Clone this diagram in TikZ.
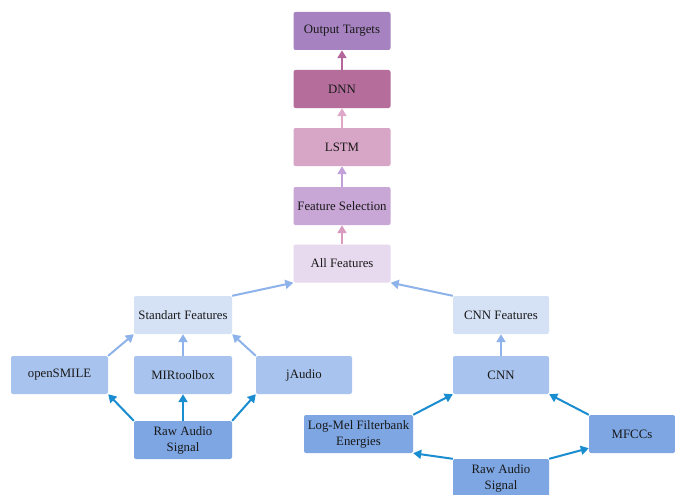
\documentclass[tikz,border=0pt]{standalone}
\usepackage{fontspec}
\setmainfont{Liberation Serif}
\usetikzlibrary{arrows.meta}
\definecolor{cOut}{HTML}{A683C0}
\definecolor{cDnn}{HTML}{B56E9C}
\definecolor{cLstm}{HTML}{D7A5C5}
\definecolor{cSel}{HTML}{C8A6D6}
\definecolor{cAll}{HTML}{E8DAEE}
\definecolor{cFeat}{HTML}{D5E2F6}
\definecolor{cTool}{HTML}{A8C4EE}
\definecolor{cRaw}{HTML}{7DA6E3}
\definecolor{aOut}{HTML}{B4679A}
\definecolor{aDnn}{HTML}{E0A8C8}
\definecolor{aLstm}{HTML}{C4A0D8}
\definecolor{aSel}{HTML}{D99AC0}
\definecolor{aFeat}{HTML}{8EB2EA}
\definecolor{aRaw}{HTML}{1A8CD0}
\tikzset{
  box/.style={rounded corners=2pt, minimum width=97pt, minimum height=38pt,
    inner sep=2pt, align=center, text=black!90,
    font=\fontsize{12.8}{16}\selectfont},
  conn/.style={line width=2pt, -{Triangle[length=8pt,width=9pt]}},
}
\begin{document}
\begin{tikzpicture}[x=1pt,y=-1pt]
\useasboundingbox[fill=white] (0,0) rectangle (675,495);
% central stack
\node[box, fill=cOut] (out) at (342,31) {Output Targets};
\node[box, fill=cDnn] (dnn) at (342,89) {DNN};
\node[box, fill=cLstm] (lstm) at (342,147) {LSTM};
\node[box, fill=cSel] (fsel) at (342,206) {Feature Selection};
\node[box, fill=cAll] (all) at (342,263.5) {All Features};
% standard feature branch
\node[box, fill=cFeat, minimum width=98pt] (std) at (183,315) {Standart Features};
\node[box, fill=cTool] (osm) at (59.5,375) {openSMILE};
\node[box, fill=cTool, minimum width=98pt] (mir) at (183,375) {MIRtoolbox};
\node[box, fill=cTool, minimum width=96pt] (jau) at (304,375) {jAudio};
\node[box, fill=cRaw, minimum width=98pt] (rawL) at (183,440) {Raw Audio\\Signal};
% CNN branch
\node[box, fill=cFeat, minimum width=96pt] (cnnf) at (501,315) {CNN Features};
\node[box, fill=cTool, minimum width=96pt] (cnn) at (501,375) {CNN};
\node[box, fill=cRaw, minimum width=109pt] (logmel) at (358.5,434) {Log-Mel Filterbank\\Energies};
\node[box, fill=cRaw, minimum width=86pt] (mfcc) at (632,434) {MFCCs};
\node[box, fill=cRaw, minimum width=96pt] (rawR) at (501,478) {Raw Audio\\Signal};
% arrows in the stack
\draw[conn, draw=aOut, fill=aOut] (dnn) -- (out);
\draw[conn, draw=aDnn, fill=aDnn] (lstm) -- (dnn);
\draw[conn, draw=aLstm, fill=aLstm] (fsel) -- (lstm);
\draw[conn, draw=aSel, fill=aSel] (all) -- (fsel);
% feature sets into all features
\draw[conn, draw=aFeat] (std.north east) -- (all.south west);
\draw[conn, draw=aFeat] (cnnf.north west) -- (all.south east);
\draw[conn, draw=aFeat] (osm.north east) -- (std.south west);
\draw[conn, draw=aFeat] (mir) -- (std);
\draw[conn, draw=aFeat] (jau.north west) -- (std.south east);
\draw[conn, draw=aFeat] (cnn) -- (cnnf);
% raw signal inputs
\draw[conn, draw=aRaw] (rawL.north west) -- (osm.south east);
\draw[conn, draw=aRaw] (rawL) -- (mir);
\draw[conn, draw=aRaw] (rawL.north east) -- (jau.south west);
\draw[conn, draw=aRaw] (logmel.north east) -- (cnn.south west);
\draw[conn, draw=aRaw] (mfcc.north west) -- (cnn.south east);
\draw[conn, draw=aRaw] (rawR.north west) -- (logmel.south east);
\draw[conn, draw=aRaw] (rawR.north east) -- ([yshift=5pt]mfcc.south west);
\end{tikzpicture}
\end{document}
